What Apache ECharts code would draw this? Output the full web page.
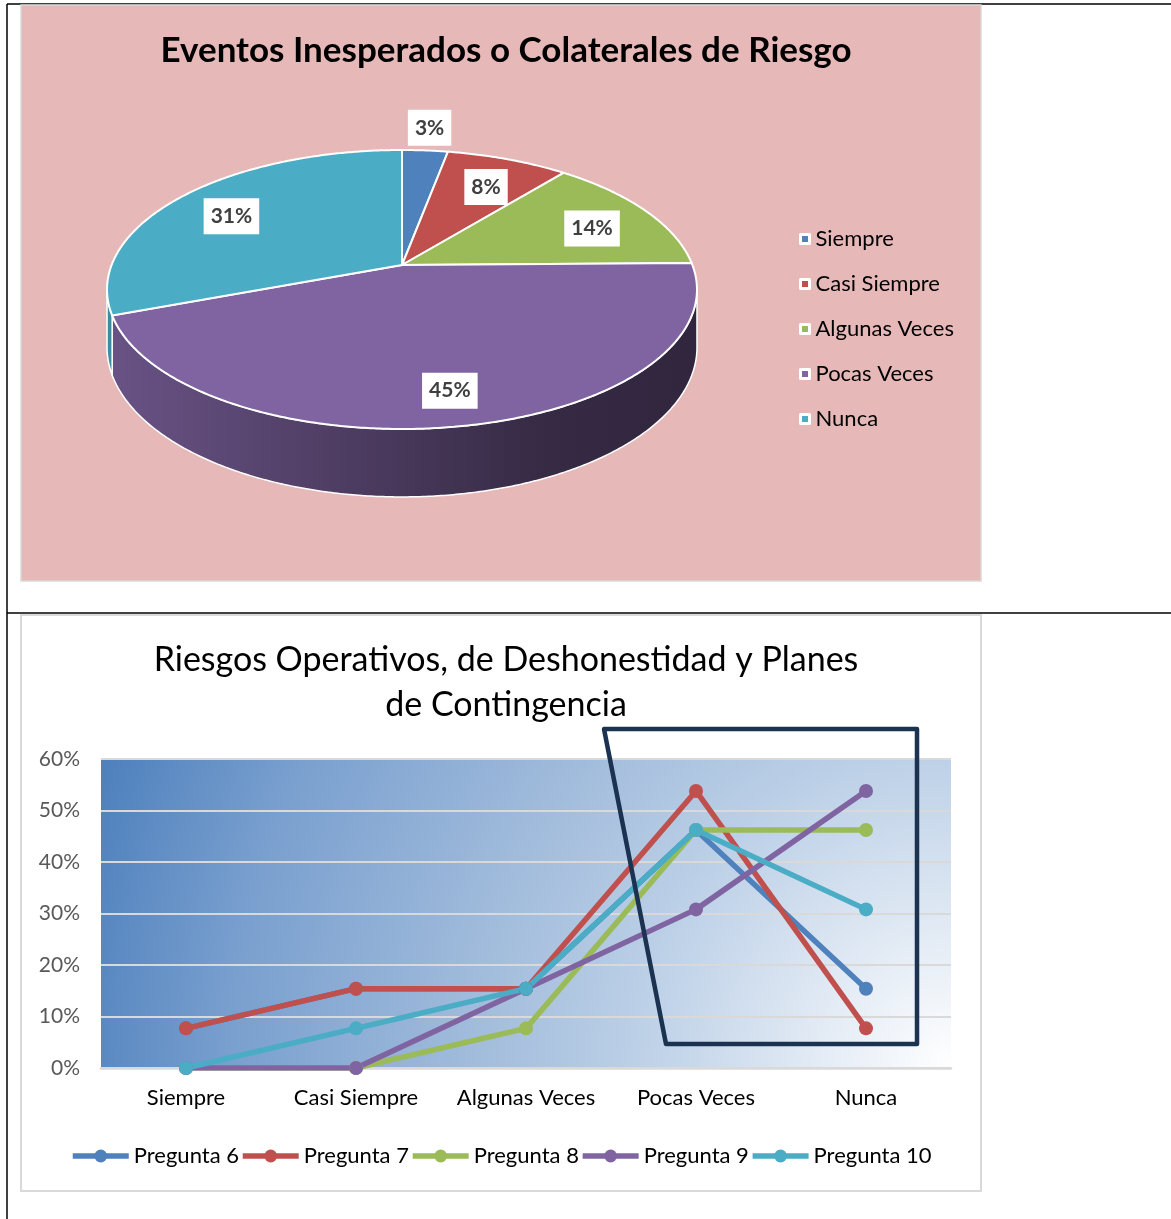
<!DOCTYPE html>
<html>
<head>
<meta charset="utf-8">
<script src="https://cdn.jsdelivr.net/npm/echarts@6/dist/echarts.min.js"></script>
<style>
html,body{margin:0;padding:0;background:#fff;}
#c{width:1171px;height:1219px;}
</style>
</head>
<body>
<div id="c"></div>
<script>
// ---------- data ----------
const pieTitle = 'Eventos Inesperados o Colaterales de Riesgo';
const pieCategories = ['Siempre', 'Casi Siempre', 'Algunas Veces', 'Pocas Veces', 'Nunca'];
const pieValues = [3, 8, 14, 45, 31];

const lineTitle = 'Riesgos Operativos, de Deshonestidad y Planes\nde Contingencia';
const categories = ['Siempre', 'Casi Siempre', 'Algunas Veces', 'Pocas Veces', 'Nunca'];
const seriesNames = ['Pregunta 6', 'Pregunta 7', 'Pregunta 8', 'Pregunta 9', 'Pregunta 10'];
const pregunta6 = [7.7, 15.4, 15.4, 46.2, 15.4];
const pregunta7 = [7.7, 15.4, 15.4, 53.8, 7.7];
const pregunta8 = [0, 0, 7.7, 46.2, 46.2];
const pregunta9 = [0, 0, 15.4, 30.8, 53.8];
const pregunta10 = [0, 7.7, 15.4, 46.2, 30.8];
const yMin = 0, yMax = 60, yStep = 10;

// ---------- styles ----------
const palette = ['#4F81BD', '#C0504D', '#9BBB59', '#8064A2', '#4BACC6'];
const FONT = 'Lato, "Open Sans", sans-serif';

// 3D pie projection parameters (layout)
const CX = 402, CY = 265, RA = 290.4, RB = 135.2, K = 0.1756, DEPTH = 56;
const pieTotal = pieValues.reduce((a, b) => a + b, 0);
const pieCum = [0];
pieValues.forEach((v, i) => pieCum.push(pieCum[i] + v));

function proj(phi, r, z) {
  const x = r * Math.sin(phi), y = -r * Math.cos(phi);
  const s = 1 / (1 - K * y);
  return [CX + RA * x * s, CY + (RB * y + DEPTH * z) * s];
}
function shade(hex, f) {
  const n = parseInt(hex.slice(1), 16);
  const r = Math.round(((n >> 16) & 255) * f), g = Math.round(((n >> 8) & 255) * f), b = Math.round((n & 255) * f);
  return 'rgb(' + r + ',' + g + ',' + b + ')';
}
const PHI_L = Math.acos(-K), PHI_R = 2 * Math.PI - PHI_L;

function renderSlice(params, api) {
  const i = params.dataIndex;
  const v = api.value(0);
  const start = pieCum[i] / pieTotal * 2 * Math.PI;
  const end = (pieCum[i] + v) / pieTotal * 2 * Math.PI;
  const color = palette[i % palette.length];
  const children = [];
  const step = Math.PI / 360;
  // side face
  const s0 = Math.max(start, PHI_L), e0 = Math.min(end, PHI_R);
  if (e0 > s0) {
    const pts = [];
    for (let a = s0; a < e0; a += step) pts.push(proj(a, 1, 0));
    pts.push(proj(e0, 1, 0));
    const bottom = [];
    for (let a = s0; a < e0; a += step) bottom.push(proj(a, 1, 1));
    bottom.push(proj(e0, 1, 1));
    bottom.reverse().forEach(p => pts.push(p));
    children.push({
      type: 'polygon', z2: 1,
      shape: { points: pts },
      style: {
        fill: {
          type: 'linear', global: true,
          x: CX - RA, y: 0, x2: CX + RA, y2: 0,
          colorStops: [
            { offset: 0, color: shade(color, 0.82) },
            { offset: 0.75, color: shade(color, 0.42) },
            { offset: 1, color: shade(color, 0.38) }
          ]
        },
        stroke: '#fff', lineWidth: 1.5
      }
    });
  }
  // top face
  const top = [[CX, CY]];
  for (let a = start; a < end; a += step) top.push(proj(a, 1, 0));
  top.push(proj(end, 1, 0));
  children.push({
    type: 'polygon', z2: 10,
    shape: { points: top },
    style: { fill: color, stroke: '#fff', lineWidth: 2 }
  });
  // label
  const mid = (start + end) / 2;
  const pct = v / pieTotal * 100;
  const outside = pct < 5;
  const lp = proj(mid, outside ? 1.24 : 0.77, outside ? 0 : 0.12);
  children.push({
    type: 'text', z2: 100,
    x: lp[0], y: lp[1],
    style: {
      text: Math.round(v) + '%',
      fill: '#404040',
      font: 'bold 21px ' + FONT,
      align: 'center', verticalAlign: 'middle',
      textAlign: 'center', textVerticalAlign: 'middle',
      backgroundColor: '#fff',
      padding: [8, 7, 7, 7]
    }
  });
  return { type: 'group', children: children };
}

const lineData = [pregunta6, pregunta7, pregunta8, pregunta9, pregunta10];

const chart = echarts.init(document.getElementById('c'), null, { renderer: 'canvas' });
chart.setOption({
  backgroundColor: '#fff',
  animation: false,
  color: palette,
  title: [
    {
      text: pieTitle, left: 501, top: 25, textAlign: 'center',
      textStyle: { fontFamily: FONT, fontWeight: 'bold', fontSize: 35, color: '#000', lineHeight: 42 }
    },
    {
      text: lineTitle, left: 501, top: 633, textAlign: 'center',
      textStyle: { fontFamily: FONT, fontWeight: 'normal', fontSize: 34, color: '#000', lineHeight: 45 }
    }
  ],
  legend: [
    {
      data: pieCategories,
      orient: 'vertical',
      left: 794, top: 223,
      itemGap: 23,
      itemWidth: 9, itemHeight: 9,
      icon: 'rect',
      itemStyle: { borderColor: '#fff', borderWidth: 3 },
      textStyle: { fontFamily: FONT, fontSize: 22, color: '#000', padding: [0, 0, 0, 1] },
      selectedMode: false
    },
    {
      data: seriesNames,
      left: 65, top: 1140,
      itemGap: 1,
      itemWidth: 56, itemHeight: 16,
      lineStyle: { width: 5.5 },
      textStyle: { fontFamily: FONT, fontSize: 22, color: '#000' },
      selectedMode: false
    }
  ],
  grid: {
    left: 101, right: 220, top: 759, bottom: 151,
    show: true, borderWidth: 0,
    backgroundColor: {
      type: 'radial', x: 1, y: 1, r: 2.9,
      colorStops: [
        { offset: 0, color: '#ffffff' },
        { offset: 0.2, color: '#d9e4f1' },
        { offset: 0.35, color: '#bcd0e7' },
        { offset: 0.52, color: '#a3bddc' },
        { offset: 0.8, color: '#7aa0cf' },
        { offset: 1, color: '#4f81bd' }
      ]
    }
  },
  xAxis: {
    type: 'category',
    data: categories,
    boundaryGap: true,
    axisTick: { show: false },
    axisLine: { lineStyle: { color: '#d9d9d9', width: 2.5 } },
    axisLabel: { interval: 0, fontFamily: FONT, fontSize: 22, color: '#000', margin: 19 }
  },
  yAxis: {
    type: 'value',
    min: yMin, max: yMax, interval: yStep,
    axisLine: { show: false },
    axisTick: { show: false },
    axisLabel: { fontFamily: FONT, fontSize: 21, color: '#595959', margin: 21, formatter: '{value}%' },
    splitLine: { lineStyle: { color: '#d9d9d9', width: 2 } }
  },
  series: [
    {
      type: 'pie', name: 'leyenda',
      radius: ['0%', '0%'], center: [CX, CY],
      silent: true,
      label: { show: false }, labelLine: { show: false },
      emphasis: { disabled: true },
      data: pieCategories.map((n, i) => ({ name: n, value: pieValues[i], itemStyle: { color: palette[i] } }))
    },
    {
      type: 'custom', name: 'pie3d',
      coordinateSystem: 'none',
      silent: true,
      renderItem: renderSlice,
      data: pieValues.map((v, i) => ({ name: pieCategories[i], value: [v] }))
    }
  ].concat(lineData.map((d, i) => ({
    type: 'line',
    name: seriesNames[i],
    data: d,
    symbol: 'circle',
    symbolSize: 14,
    lineStyle: { width: 5.5, color: palette[i] },
    itemStyle: { color: palette[i] },
    emphasis: { disabled: true }
  }))),
  graphic: [
    // page / table lines
    { type: 'line', z: -20, shape: { x1: 7, y1: 4, x2: 1171, y2: 4 }, style: { stroke: '#000', lineWidth: 1.5 } },
    { type: 'line', z: -20, shape: { x1: 7, y1: 4, x2: 7, y2: 1219 }, style: { stroke: '#000', lineWidth: 1.5 } },
    { type: 'line', z: -20, shape: { x1: 7, y1: 613, x2: 1171, y2: 613 }, style: { stroke: '#000', lineWidth: 1.5 } },
    // chart panels
    { type: 'rect', z: -10, shape: { x: 21, y: 5, width: 960, height: 576 }, style: { fill: '#E6B9B8', stroke: '#d9d9d9', lineWidth: 1.5 } },
    { type: 'rect', z: -10, shape: { x: 21, y: 615, width: 960, height: 576 }, style: { fill: '#ffffff', stroke: '#d9d9d9', lineWidth: 2 } },
    // hand-drawn annotation frame
    {
      type: 'polygon', z: 50,
      shape: { points: [[604, 729], [917, 729], [917, 1044], [666, 1044]] },
      style: { fill: 'none', stroke: '#1B3350', lineWidth: 4.5, lineJoin: 'round' }
    }
  ]
});
</script>
</body>
</html>
